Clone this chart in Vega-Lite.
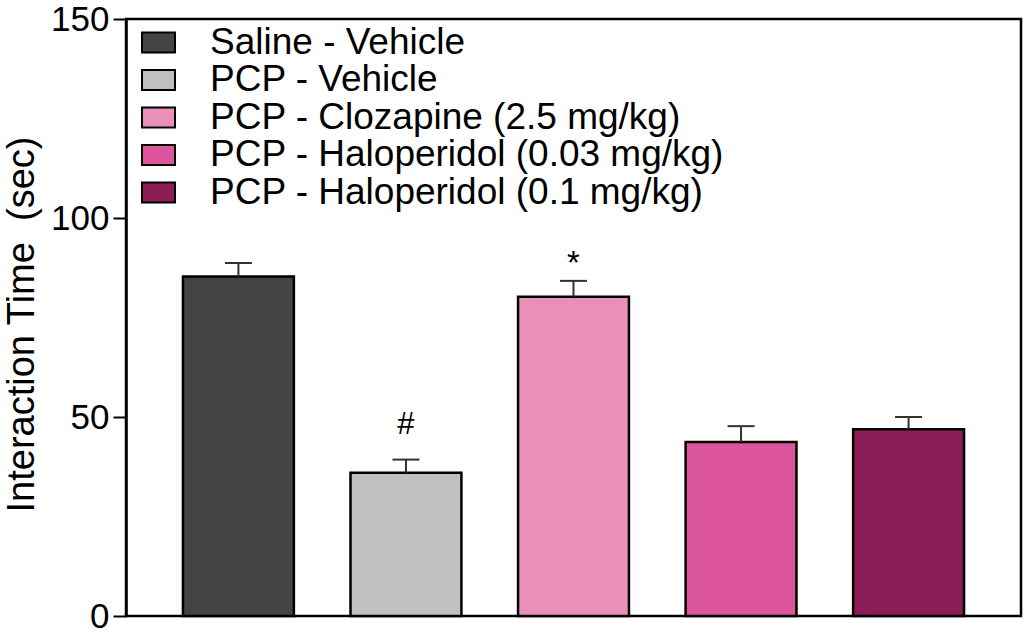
{
  "$schema": "https://vega.github.io/schema/vega-lite/v6.json",
  "autosize": "none",
  "width": 895,
  "height": 597,
  "padding": {"left": 126, "top": 19, "right": 3, "bottom": 24},
  "background": "white",
  "config": {
    "font": "Liberation Sans",
    "view": {"stroke": "black", "strokeWidth": 2.5},
    "axis": {"labelFont": "Liberation Sans", "titleFont": "Liberation Sans"},
    "legend": {"labelFont": "Liberation Sans"}
  },
  "data": {
    "values": [
      {"group": "Saline - Vehicle", "mean": 85.3, "upper": 88.7, "sig": ""},
      {"group": "PCP - Vehicle", "mean": 36.0, "upper": 39.3, "sig": "#"},
      {"group": "PCP - Clozapine (2.5 mg/kg)", "mean": 80.2, "upper": 84.2, "sig": "*"},
      {"group": "PCP - Haloperidol (0.03 mg/kg)", "mean": 43.7, "upper": 47.7, "sig": ""},
      {"group": "PCP - Haloperidol (0.1 mg/kg)", "mean": 46.9, "upper": 50.0, "sig": ""}
    ]
  },
  "encoding": {
    "x": {
      "field": "group",
      "type": "nominal",
      "sort": null,
      "scale": {"paddingInner": 0.338, "paddingOuter": 0.34},
      "axis": null
    }
  },
  "layer": [
    {
      "mark": {"type": "bar", "stroke": "black", "strokeWidth": 2.5, "opacity": 1},
      "encoding": {
        "y": {
          "field": "mean",
          "type": "quantitative",
          "scale": {"domain": [0, 150], "nice": false},
          "axis": {
            "values": [0, 50, 100, 150],
            "title": "Interaction Time \u00a0(sec)",
            "titleFontSize": 38,
            "titleFontWeight": "normal",
            "titleColor": "black",
            "titlePadding": 9,
            "titleY": 305,
            "labelFontSize": 35,
            "labelColor": "black",
            "labelPadding": 4,
            "tickSize": 13,
            "tickWidth": 2,
            "tickColor": "black",
            "domainColor": "black",
            "domainWidth": 2.5,
            "grid": false
          }
        },
        "color": {
          "field": "group",
          "type": "nominal",
          "sort": null,
          "scale": {
            "domain": ["Saline - Vehicle", "PCP - Vehicle", "PCP - Clozapine (2.5 mg/kg)", "PCP - Haloperidol (0.03 mg/kg)", "PCP - Haloperidol (0.1 mg/kg)"],
            "range": ["#444444", "#c0c0c0", "#ea8fb9", "#dc559d", "#8c1d56"]
          },
          "legend": {
            "title": null,
            "orient": "none",
            "legendX": 14,
            "legendY": 5,
            "padding": 0,
            "symbolType": "M-1,-0.6H1V0.6H-1Z",
            "symbolSize": 1089,
            "symbolStrokeColor": "black",
            "symbolStrokeWidth": 2,
            "symbolOpacity": 1,
            "labelFontSize": 37,
            "labelColor": "black",
            "labelOffset": 33,
            "rowPadding": -0.5,
            "labelLimit": 800
          }
        }
      }
    },
    {
      "mark": {"type": "rule", "color": "#333333", "strokeWidth": 2},
      "encoding": {
        "y": {"field": "mean", "type": "quantitative"},
        "y2": {"field": "upper"}
      }
    },
    {
      "mark": {"type": "tick", "color": "#333333", "thickness": 2, "size": 27, "opacity": 1},
      "encoding": {
        "y": {"field": "upper", "type": "quantitative"}
      }
    },
    {
      "transform": [{"filter": "datum.sig == '#'"}],
      "mark": {"type": "text", "fontSize": 31, "color": "black", "baseline": "alphabetic", "dy": -26},
      "encoding": {
        "y": {"field": "upper", "type": "quantitative"},
        "text": {"field": "sig"}
      }
    },
    {
      "transform": [{"filter": "datum.sig == '*'"}],
      "mark": {"type": "text", "fontSize": 33, "color": "black", "baseline": "alphabetic", "dy": -7},
      "encoding": {
        "y": {"field": "upper", "type": "quantitative"},
        "text": {"field": "sig"}
      }
    }
  ]
}
